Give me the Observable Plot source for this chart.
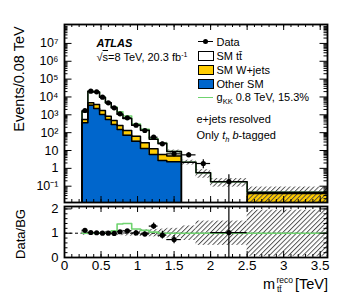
<!DOCTYPE html>
<html><head><meta charset="utf-8">
<script src="https://cdn.jsdelivr.net/npm/d3@7"></script>
<script src="https://cdn.jsdelivr.net/npm/@observablehq/plot@0.6"></script>
<style>
body{margin:0;background:#fff;font-family:"Liberation Sans",Arial,sans-serif;}
#wrap{position:relative;width:357px;height:302px;overflow:hidden;background:#fff;}
#main{position:absolute;left:0;top:0;}
#ratio{position:absolute;left:0;top:202px;}
.t{position:absolute;white-space:nowrap;color:#000;line-height:1;}
.bx{position:absolute;width:14px;height:8px;border:1px solid #000;}
.ln{position:absolute;height:0;}
</style></head><body>
<svg width="0" height="0" style="position:absolute"><defs>
<pattern id="hatch" patternUnits="userSpaceOnUse" width="3.4" height="3.4" patternTransform="rotate(45)"><line x1="0.5" y1="0" x2="0.5" y2="3.4" stroke="#444" stroke-width="0.9"/></pattern>
</defs></svg>
<div id="wrap">
<div id="main"></div>
<div id="ratio"></div>
<div class="t" style="left:19px;top:79px;font-size:14.5px;transform:translate(-50%,-50%) rotate(-90deg);">Events/0.08 TeV</div>
<div class="t" style="left:20px;top:234px;font-size:13px;transform:translate(-50%,-50%) rotate(-90deg);">Data/BG</div>
<div class="t" style="left:263px;top:276.5px;font-size:14.5px;">m</div>
<div class="t" style="left:276.5px;top:275.5px;font-size:8.5px;">reco</div>
<div class="t" style="left:277px;top:284.5px;font-size:8.5px;">tt&#x0304;</div>
<div class="t" style="right:29px;top:276.5px;font-size:14.5px;">[TeV]</div>
<div class="t" style="left:96.5px;top:37.5px;font-size:11px;font-weight:bold;font-style:italic;">ATLAS</div>
<div class="t" style="left:96.5px;top:51px;font-size:11px;">&#x221A;<span style="text-decoration:overline">s</span>=8 TeV, 20.3 fb<sup style="font-size:7px;vertical-align:4px;">-1</sup></div>
<div class="ln" style="left:198px;top:41px;width:15px;border-top:1.2px solid #000;"></div>
<div style="position:absolute;left:203px;top:39px;width:5.2px;height:5.2px;border-radius:50%;background:#000;"></div>
<div class="t" style="left:216.5px;top:36.5px;font-size:11px;">Data</div>
<div class="bx" style="left:198px;top:51px;background:#fff;"></div>
<div class="t" style="left:216.5px;top:50.5px;font-size:11px;">SM tt&#x0304;</div>
<div class="bx" style="left:198px;top:65px;background:#ffcc00;"></div>
<div class="t" style="left:216.5px;top:64.5px;font-size:11px;">SM W+jets</div>
<div class="bx" style="left:198px;top:79px;background:#0066cc;"></div>
<div class="t" style="left:216.5px;top:78.5px;font-size:11px;">Other SM</div>
<div class="ln" style="left:198px;top:97px;width:15px;border-top:1.5px solid #6fd36f;"></div>
<div class="t" style="left:216.5px;top:92px;font-size:11px;">g<sub style="font-size:7.5px;vertical-align:-3px;">KK</sub> 0.8 TeV, 15.3%</div>
<div class="t" style="left:196.5px;top:114px;font-size:11px;">e+jets resolved</div>
<div class="t" style="left:196.5px;top:129.5px;font-size:11px;">Only <i>t<sub style="font-size:7.5px;vertical-align:-3px;">h</sub></i> <i>b</i>-tagged</div>
</div>
<script>
// ---- data ----
const binEdges = [0.24,0.32,0.40,0.48,0.56,0.64,0.72,0.80,0.92,1.04,1.16,1.28,1.40,1.60,1.80,2.00,2.50,3.60];
const dataVals  = [1742,21000,19450,9680,4700,2465,1137,679,261,132,55.6,23.7,6.5,5.7,1.87,0.183];
const dataErrLo = [42,145,140,98,69,50,34,21,12,9,5.5,3.6,1.5,1.5,0.93,0.183];
const dataErrHi = [42,145,140,98,69,50,34,21,12,9,5.5,3.6,1.7,1.7,1.13,0.25];
const otherSM = [355,3470,2240,1050,550,288,150,72,33,13,6,2.75,2.33,0,0,0,0];
const wJets   = [191,1230,1535,692,282,191,101,60,30,14,6.4,3.25,2.57,0,0,0,0.039];
const ttbar   = [1009,15700,15295,7938,3868,2011,822,485,195,110,30.6,19.8,3.9,2.2,0.56,0.178,0.007];
const signalKK = [0,0,0,0,0,249,408,247,44,16,2,0,0,0,0,0,0];
const bgUnc = [0.08,0.06,0.06,0.07,0.08,0.09,0.10,0.12,0.12,0.14,0.15,0.17,0.20,0.30,0.50,0.50,0.95];
const ratioErr = [0.03,0.01,0.01,0.015,0.02,0.025,0.035,0.045,0.07,0.09,0.13,0.16,0.17,0.7,1.1,1.6];
const xTickVals = [0,0.5,1,1.5,2,2.5,3,3.5];
const xTickLabels = ["0","0.5","1","1.5","2","2.5","3","3.5"];
const yTickVals = [0.1,1,10,100,1e3,1e4,1e5,1e6,1e7];
const yTickLabels = ["10\u207B\u00B9","1","10","10\u00B2","10\u00B3","10\u2074","10\u2075","10\u2076","10\u2077"];
const rTickVals = [0,1,2];
const rTickLabels = ["0","1","2"];

const BLUE = "#0066cc", YEL = "#ffcc00", GREEN = "#6fd36f";
const FONT = "Liberation Sans, Arial, sans-serif";
const W = 357, ML = 64, MR = 30;
const IW = W - ML - MR;
const yDom = [0.0122, 1.15e8];
const FLOOR = 1e-4;

const bins = binEdges.slice(0, -1).map((x1, i) => {
  const x2 = binEdges[i + 1];
  const blue = otherSM[i];
  const yel = blue + wJets[i];
  const tot = yel + ttbar[i];
  return {x1, x2, xc: (x1 + x2) / 2, blue, yel, tot, sig: tot + signalKK[i], unc: bgUnc[i]};
});
const pts = dataVals.map((v, i) => ({
  x: bins[i].xc, x1: bins[i].x1, x2: bins[i].x2, v,
  lo: Math.max(v - dataErrLo[i], FLOOR), hi: v + dataErrHi[i],
  r: v / bins[i].tot, re: ratioErr[i]
}));

function steps(get, floor) {
  const p = [[bins[0].x1, floor]];
  for (const b of bins) { const v = Math.max(get(b), floor); p.push([b.x1, v], [b.x2, v]); }
  p.push([bins[bins.length - 1].x2, floor]);
  return p;
}

function tickMarks(H, xMinor, xMajor, yMinor, yMajor, xl, yl) {
  return [
    Plot.ruleX(xMinor, {x: d => d, insetTop: H - xl[1], stroke: "black", strokeWidth: 1}),
    Plot.ruleX(xMinor, {x: d => d, insetBottom: H - xl[1], stroke: "black", strokeWidth: 1}),
    Plot.ruleX(xMajor, {x: d => d, insetTop: H - xl[0], stroke: "black", strokeWidth: 1}),
    Plot.ruleX(xMajor, {x: d => d, insetBottom: H - xl[0], stroke: "black", strokeWidth: 1}),
    Plot.ruleY(yMinor, {y: d => d, insetRight: IW - yl[1], stroke: "black", strokeWidth: 1}),
    Plot.ruleY(yMinor, {y: d => d, insetLeft: IW - yl[1], stroke: "black", strokeWidth: 1}),
    Plot.ruleY(yMajor, {y: d => d, insetRight: IW - yl[0], stroke: "black", strokeWidth: 1}),
    Plot.ruleY(yMajor, {y: d => d, insetLeft: IW - yl[0], stroke: "black", strokeWidth: 1})
  ];
}

const xMinor = d3.range(0, 36).map(k => k / 10);
const yMinorLog = [];
for (let e = -2; e <= 7; e++) for (let m = 2; m <= 9; m++) { const v = m * Math.pow(10, e); if (v > yDom[0] && v < yDom[1]) yMinorLog.push(v); }

const stepArea = (get, fill) => Plot.area(steps(get, FLOOR), {x1: d => d[0], y1: () => FLOOR, y2: d => d[1], fill, clip: true});
const stepLine = (get, stroke, w) => Plot.line(steps(get, FLOOR), {x: d => d[0], y: d => d[1], stroke, strokeWidth: w, clip: true});

// ---- main panel ----
const MT = 24, MB = 4, HM = 206;
const IH = HM - MT - MB;
const main = Plot.plot({
  width: W, height: HM, marginLeft: ML, marginRight: MR, marginTop: MT, marginBottom: MB,
  style: {fontFamily: FONT, fontSize: "13px", background: "transparent", overflow: "visible"},
  x: {domain: [0, 3.6], axis: null},
  y: {type: "log", domain: yDom, axis: null},
  marks: [
    stepArea(b => b.tot, "white"),
    stepArea(b => b.yel, YEL),
    stepArea(b => b.blue, BLUE),
    Plot.rect(bins, {x1: "x1", x2: "x2", y1: b => Math.max(b.tot * (1 - b.unc), FLOOR), y2: b => b.tot * (1 + b.unc), fill: "url(#hatch)", clip: true}),
    stepLine(b => b.sig, GREEN, 1.5),
    stepLine(b => b.blue, "black", 1.5),
    stepLine(b => b.yel, "black", 1.5),
    stepLine(b => b.tot, "black", 1.5),
    Plot.ruleX(pts, {x: "x", y1: "lo", y2: "hi", stroke: "black", strokeWidth: 1.2, clip: true}),
    Plot.ruleY(pts, {y: "v", x1: "x1", x2: "x2", stroke: "black", strokeWidth: 1.2, clip: true}),
    Plot.dot(pts, {x: "x", y: "v", r: 2.6, fill: "black", stroke: "none", clip: true}),
    ...tickMarks(IH, xMinor, xTickVals, yMinorLog, yTickVals, [6, 3], [7.5, 3.5]),
    Plot.frame({stroke: "black", strokeWidth: 1.8}),
    Plot.text(yTickVals, {y: d => d, text: (d, i) => yTickLabels[i], frameAnchor: "left", textAnchor: "end", dx: -6, fontSize: 12.5})
  ]
});
document.getElementById("main").appendChild(main);

// ---- ratio panel ----
const RMT = 4, RMB = 45, HR = 100;
const RH = HR - RMT - RMB;
const rMinor = d3.range(0, 11).map(k => k / 5);
const ratioPts = pts.filter(p => p.r <= 2.1);
const ratio = Plot.plot({
  width: W, height: HR, marginLeft: ML, marginRight: MR, marginTop: RMT, marginBottom: RMB,
  style: {fontFamily: FONT, fontSize: "13px", background: "transparent", overflow: "visible"},
  x: {domain: [0, 3.6], axis: null},
  y: {domain: [0, 2.1], axis: null},
  marks: [
    Plot.rect(bins, {x1: "x1", x2: "x2", y1: b => 1 - b.unc, y2: b => 1 + b.unc, fill: "url(#hatch)", clip: true}),
    Plot.ruleY([1], {stroke: "black", strokeWidth: 1, strokeDasharray: "3,2.5"}),
    Plot.line(steps(b => b.sig / b.tot, 1).slice(1, -1), {x: d => d[0], y: d => d[1], stroke: GREEN, strokeWidth: 1.6, clip: true}),
    Plot.ruleX(ratioPts, {x: "x", y1: p => p.r - p.re, y2: p => p.r + p.re, stroke: "black", strokeWidth: 1.2, clip: true}),
    Plot.ruleY(ratioPts, {y: "r", x1: "x1", x2: "x2", stroke: "black", strokeWidth: 1.2, clip: true}),
    Plot.dot(ratioPts, {x: "x", y: "r", r: 2.6, fill: "black", stroke: "none", clip: true}),
    ...tickMarks(RH, xMinor, xTickVals, rMinor, rTickVals, [6, 3], [7.5, 3.5]),
    Plot.frame({stroke: "black", strokeWidth: 1.8}),
    Plot.text(rTickVals, {y: d => d, text: (d, i) => rTickLabels[i], frameAnchor: "left", textAnchor: "end", dx: -6, fontSize: 13}),
    Plot.text(xTickVals, {x: d => d, text: (d, i) => xTickLabels[i], frameAnchor: "bottom", lineAnchor: "top", dy: 3, fontSize: 13.5})
  ]
});
document.getElementById("ratio").appendChild(ratio);
</script>
</body></html>
